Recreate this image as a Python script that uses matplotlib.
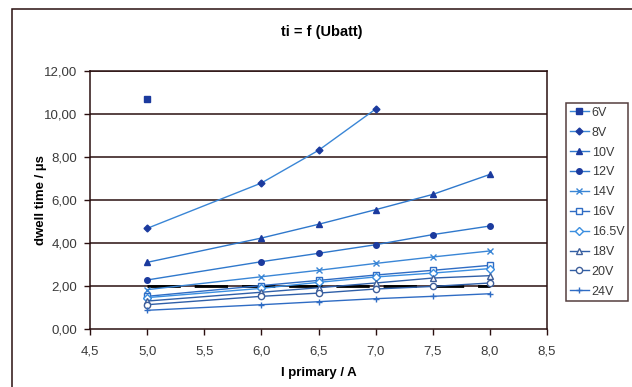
import matplotlib.pyplot as plt
from matplotlib.patches import Rectangle
from matplotlib.ticker import FuncFormatter, MultipleLocator

plt.rcParams['font.family'] = ['Liberation Sans', 'DejaVu Sans']

# primary current (A)
i_primary = [5.0, 6.0, 6.5, 7.0, 7.5, 8.0]

# dwell time per battery voltage (us)
t_6v = [10.71]
t_8v = [4.68, 6.79, 8.31, 10.23]
t_10v = [3.10, 4.23, 4.87, 5.55, 6.26, 7.19]
t_12v = [2.28, 3.13, 3.52, 3.92, 4.39, 4.79]
t_14v = [1.83, 2.43, 2.73, 3.05, 3.35, 3.63]
t_16v = [1.52, 2.02, 2.26, 2.51, 2.73, 2.96]
t_165v = [1.46, 1.89, 2.17, 2.42, 2.60, 2.81]
t_18v = [1.30, 1.71, 1.92, 2.14, 2.37, 2.48]
t_20v = [1.13, 1.52, 1.67, 1.86, 1.98, 2.14]
t_24v = [0.87, 1.13, 1.27, 1.41, 1.52, 1.64]

labels = ["6V", "8V", "10V", "12V", "14V", "16V", "16.5V", "18V", "20V", "24V"]
series = [t_6v, t_8v, t_10v, t_12v, t_14v, t_16v, t_165v, t_18v, t_20v, t_24v]

# reference level (dashed black line)
ref_level = 2.0

line_col = "#3a86d6"
dark = "#1b3a9e"
styles = [
    dict(marker="s", mfc=dark, mec=dark, ms=4),
    dict(marker="D", mfc=dark, mec=dark, ms=3.5),
    dict(marker="^", mfc=dark, mec=dark, ms=4.5),
    dict(marker="o", mfc=dark, mec=dark, ms=4),
    dict(marker="x", mfc="none", mec=line_col, ms=4, mew=1),
    dict(marker="s", mfc="white", mec="#2f6cc4", ms=4.5, mew=1),
    dict(marker="D", mfc="white", mec="#3a8ee0", ms=3.8, mew=1),
    dict(marker="^", mfc="white", mec="#3f5f9a", ms=5, mew=1),
    dict(marker="o", mfc="white", mec="#3f5f9a", ms=4.5, mew=1),
    dict(marker="+", mfc="none", mec="#2f6cc4", ms=5, mew=1),
]
line_cols = [line_col, line_col, "#2f78cc", "#2f78cc", line_col,
             "#2f6cc4", "#3a8ee0", "#2f5fa8", "#2f5fa8", "#2f6cc4"]

fig = plt.figure(figsize=(6.32, 3.87), dpi=100)
ax = fig.add_axes([90 / 632, (387 - 329) / 387, (547 - 90) / 632, (329 - 71) / 387])

grid_col = "#2a0f0f"
for yv in range(2, 13, 2):
    ax.axhline(yv, color=grid_col, lw=1.1, zorder=1)

ax.plot([i_primary[0], i_primary[-1]], [ref_level, ref_level], color="black",
        lw=2, ls=(0, (12, 5)), zorder=2)

handles = []
for lab, y, st, lc in zip(labels, series, styles, line_cols):
    h, = ax.plot(i_primary[:len(y)], y, color=lc, lw=1.0, label=lab, zorder=3, **st)
    handles.append(h)

ax.set_xlim(4.5, 8.5)
ax.set_ylim(0, 12)
ax.xaxis.set_major_locator(MultipleLocator(0.5))
ax.yaxis.set_major_locator(MultipleLocator(2))
ax.xaxis.set_major_formatter(FuncFormatter(lambda v, p: f"{v:.1f}".replace(".", ",")))
ax.yaxis.set_major_formatter(FuncFormatter(lambda v, p: f"{v:.2f}".replace(".", ",")))
ax.tick_params(axis="both", labelsize=9.5, labelcolor="#3a3a3a", color=grid_col,
               direction="out", length=4, width=1)
ax.tick_params(axis="x", pad=8)
ax.tick_params(axis="y", pad=5)
for s in ax.spines.values():
    s.set_color(grid_col)
    s.set_linewidth(1.1)

ax.set_xlabel("I primary / A", fontsize=9.5, fontweight="bold", labelpad=7)
ax.set_ylabel("dwell time / µs", fontsize=9.5, fontweight="bold", labelpad=-2)
fig.text(322 / 632, 1 - 32 / 387, "ti = f (Ubatt)", ha="center", va="center",
         fontsize=10.5, fontweight="bold")

leg = fig.legend(handles=handles, loc="upper left",
                 bbox_to_anchor=(566 / 632, 1 - 103 / 387), fontsize=9,
                 frameon=True, fancybox=False, handlelength=1.5, handletextpad=0.25,
                 labelspacing=0.63, borderpad=0.3, borderaxespad=0)
leg.get_frame().set_edgecolor(grid_col)
leg.get_frame().set_linewidth(1.1)
for t in leg.get_texts():
    t.set_color("#3a3a3a")

# outer chart frame
fig.patches.append(Rectangle((12 / 632, -0.1), 1.2, 1.1 - 9 / 387,
                             transform=fig.transFigure, fill=False,
                             edgecolor=grid_col, lw=1.1))

fig.savefig("out.png", dpi=100)
